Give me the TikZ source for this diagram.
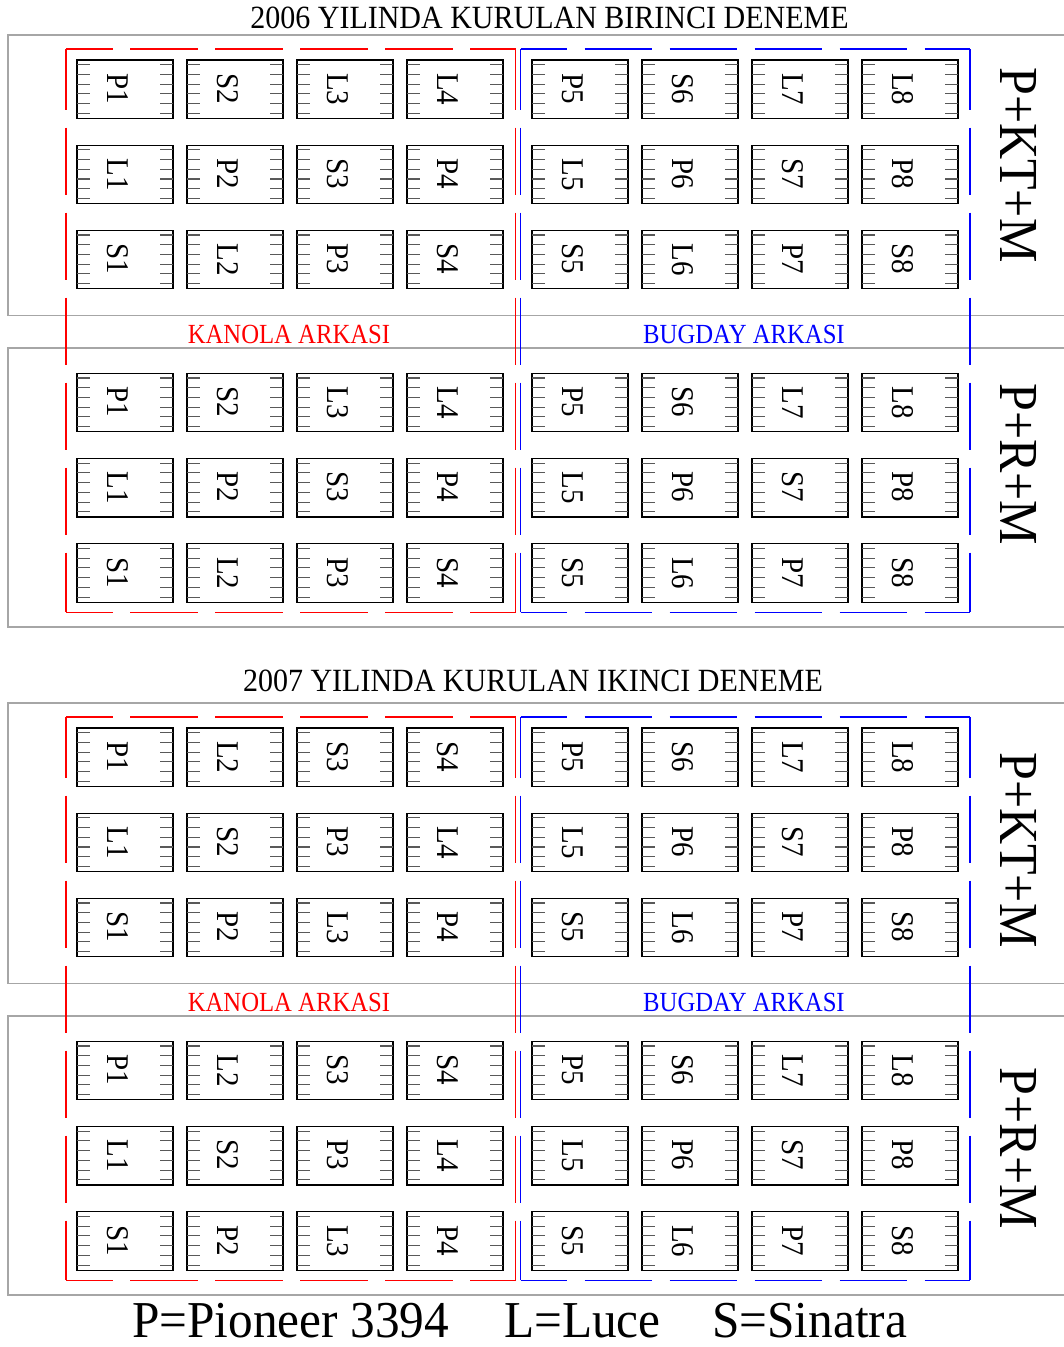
\documentclass[tikz,border=0pt]{standalone}
\usepackage{fontspec}
\setmainfont{Liberation Serif}
\newcommand\vsc[2]{\scalebox{1}[#1]{#2}}
\tikzset{
  graybox/.style={draw=black!35, line width=1.4pt},
  reddash/.style={draw=red, line width=1.1pt, dash pattern=on 67.5pt off 17.5pt},
  bluedash/.style={draw=blue, line width=1.1pt, dash pattern=on 67.5pt off 17.5pt},
  hph/.style={dash phase=21pt},
  vph/.style={dash phase=6.5pt},
  plotbox/.style={draw=black, line width=1.3pt},
  tickline/.style={draw=black!65, line width=1.1pt},
  plotlabel/.style={rotate=-90, anchor=west, inner sep=0pt, font=\fontsize{29}{29}\selectfont},
  sidelabel/.style={rotate=-90, anchor=west, inner sep=0pt, font=\fontsize{50}{50}\selectfont},
  titletext/.style={anchor=base, inner sep=0pt, font=\fontsize{30}{30}\selectfont},
  backtext/.style={anchor=base, inner sep=0pt, font=\fontsize{24.7}{25}\selectfont},
  legendtext/.style={anchor=base west, inner sep=0pt, font=\fontsize{49.3}{50}\selectfont}
}
\newcommand\plotrow[3]{%
  \foreach \lab [count=\c from 0] in {#2} {
    \pgfmathsetmacro\xx{77+110*\c+15*(\c>3)}
    \draw[plotbox] (\xx,#1) rectangle ++(96,58.4);
    \foreach \k in {0,...,5} {
      \draw[tickline] (\xx,#1+4.6+9.73*\k) -- ++(13,0);
      \draw[tickline] (\xx+96,#1+4.6+9.73*\k) -- ++(-13,0);
    }
    \node[plotlabel] (#3-\c) at (\xx+40.5,#1+13) {\vsc{1.09}{\lab}};
  }
}
\newcommand\dashblock[2]{% top y, bottom y
  \draw[reddash,hph] (66,#1) -- (515.5,#1);
  \draw[reddash,hph] (66,#2) -- (515.5,#2);
  \draw[reddash,vph] (66,#1) -- (66,#2);
  \draw[reddash,vph] (515.5,#1) -- (515.5,#2);
  \draw[bluedash,hph] (520.5,#1) -- (970,#1);
  \draw[bluedash,hph] (520.5,#2) -- (970,#2);
  \draw[bluedash,vph] (520.5,#1) -- (520.5,#2);
  \draw[bluedash,vph] (970,#1) -- (970,#2);
}
\begin{document}
\begin{tikzpicture}[x=1pt,y=-1pt]
\useasboundingbox (0,0) rectangle (1064,1347);
\fill[white] (0,0) rectangle (1064,1347);

% gray section frames
\draw[graybox] (1066,35) -- (8,35) -- (8,315.5) -- (1066,315.5);
\draw[graybox] (1066,348) -- (8,348) -- (8,627) -- (1066,627);
\draw[graybox] (1066,703) -- (8,703) -- (8,983.5) -- (1066,983.5);
\draw[graybox] (1066,1016) -- (8,1016) -- (8,1295) -- (1066,1295);

% dashed groups
\dashblock{49}{612.3}
\dashblock{717}{1280.3}

% titles
\node[titletext] (t1) at (549.5,28) {\vsc{1.08}{2006 YILINDA KURULAN BIRINCI DENEME}};
\node[titletext] (t2) at (533,691) {\vsc{1.08}{2007 YILINDA KURULAN IKINCI DENEME}};

% previous crop labels
\node[backtext, text=red] (k1) at (289,343.5) {\vsc{1.12}{KANOLA ARKASI}};
\node[backtext, text=blue] (b1) at (744,343.5) {\vsc{1.12}{BUGDAY ARKASI}};
\node[backtext, text=red] (k2) at (289,1011.5) {\vsc{1.12}{KANOLA ARKASI}};
\node[backtext, text=blue] (b2) at (744,1011.5) {\vsc{1.12}{BUGDAY ARKASI}};

% side labels
\node[sidelabel] (s1) at (1018.5,67) {\vsc{1.1}{P+KT+M}};
\node[sidelabel] (s2) at (1018.5,383) {\vsc{1.1}{P+R+M}};
\node[sidelabel] (s3) at (1018.5,752) {\vsc{1.1}{P+KT+M}};
\node[sidelabel] (s4) at (1018.5,1067) {\vsc{1.1}{P+R+M}};

% plots 2006
\plotrow{60}{P1,S2,L3,L4,P5,S6,L7,L8}{a1}
\plotrow{145.2}{L1,P2,S3,P4,L5,P6,S7,P8}{a2}
\plotrow{230.4}{S1,L2,P3,S4,S5,L6,P7,S8}{a3}
\plotrow{373.4}{P1,S2,L3,L4,P5,S6,L7,L8}{b1}
\plotrow{458.6}{L1,P2,S3,P4,L5,P6,S7,P8}{b2}
\plotrow{543.8}{S1,L2,P3,S4,S5,L6,P7,S8}{b3}
% plots 2007
\plotrow{728}{P1,L2,S3,S4,P5,S6,L7,L8}{c1}
\plotrow{813.2}{L1,S2,P3,L4,L5,P6,S7,P8}{c2}
\plotrow{898.4}{S1,P2,L3,P4,S5,L6,P7,S8}{c3}
\plotrow{1041.4}{P1,L2,S3,S4,P5,S6,L7,L8}{d1}
\plotrow{1126.6}{L1,S2,P3,L4,L5,P6,S7,P8}{d2}
\plotrow{1211.8}{S1,P2,L3,P4,S5,L6,P7,S8}{d3}

% legend
\node[legendtext] (l1) at (132,1337) {\vsc{1.05}{P=Pioneer 3394}};
\node[legendtext] (l2) at (504,1337) {\vsc{1.05}{L=Luce}};
\node[legendtext] (l3) at (712,1337) {\vsc{1.05}{S=Sinatra}};
\end{tikzpicture}
\end{document}
